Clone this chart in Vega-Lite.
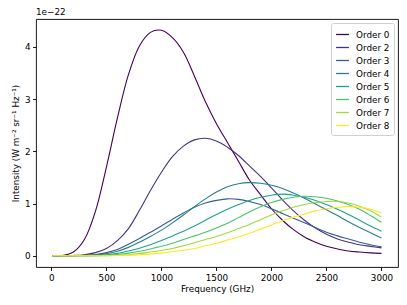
{
  "$schema": "https://vega.github.io/schema/vega-lite/v6.json",
  "width": 362,
  "height": 248,
  "padding": {"left": 36, "top": 19, "right": 9, "bottom": 38},
  "autosize": {"type": "none"},
  "background": "white",
  "config": {
    "font": "DejaVu Sans",
    "view": {"stroke": "black", "strokeWidth": 0.9},
    "axis": {"grid": false, "domain": false, "tickColor": "black", "tickSize": 3.5, "tickWidth": 0.9, "labelColor": "black", "labelFontSize": 8.8, "titleFontSize": 8.8, "titleFontWeight": "normal", "titleColor": "black", "labelPadding": 2.5}
  },
  "title": {"text": "1e\u221222", "anchor": "start", "frame": "group", "fontSize": 8.8, "fontWeight": "normal", "offset": 2, "color": "black"},
  "data": {"values": [
    {"f":10,"v":0,"o":"Order 0"},{"f":100,"v":0.003,"o":"Order 0"},{"f":200,"v":0.07,"o":"Order 0"},{"f":300,"v":0.31,"o":"Order 0"},{"f":400,"v":0.85,"o":"Order 0"},{"f":500,"v":1.7,"o":"Order 0"},{"f":600,"v":2.64,"o":"Order 0"},{"f":700,"v":3.47,"o":"Order 0"},{"f":800,"v":4.02,"o":"Order 0"},{"f":900,"v":4.28,"o":"Order 0"},{"f":1000,"v":4.32,"o":"Order 0"},{"f":1100,"v":4.18,"o":"Order 0"},{"f":1200,"v":3.9,"o":"Order 0"},{"f":1300,"v":3.44,"o":"Order 0"},{"f":1400,"v":2.95,"o":"Order 0"},{"f":1500,"v":2.53,"o":"Order 0"},{"f":1600,"v":2.17,"o":"Order 0"},{"f":1700,"v":1.81,"o":"Order 0"},{"f":1800,"v":1.45,"o":"Order 0"},{"f":1900,"v":1.17,"o":"Order 0"},{"f":2000,"v":0.9,"o":"Order 0"},{"f":2100,"v":0.68,"o":"Order 0"},{"f":2200,"v":0.5,"o":"Order 0"},{"f":2300,"v":0.36,"o":"Order 0"},{"f":2400,"v":0.26,"o":"Order 0"},{"f":2500,"v":0.18,"o":"Order 0"},{"f":2600,"v":0.13,"o":"Order 0"},{"f":2700,"v":0.09,"o":"Order 0"},{"f":2800,"v":0.07,"o":"Order 0"},{"f":2900,"v":0.055,"o":"Order 0"},{"f":3000,"v":0.045,"o":"Order 0"},

    {"f":10,"v":0,"o":"Order 2"},{"f":100,"v":0,"o":"Order 2"},{"f":200,"v":0.005,"o":"Order 2"},{"f":300,"v":0.02,"o":"Order 2"},{"f":400,"v":0.06,"o":"Order 2"},{"f":500,"v":0.14,"o":"Order 2"},{"f":600,"v":0.29,"o":"Order 2"},{"f":700,"v":0.52,"o":"Order 2"},{"f":800,"v":0.87,"o":"Order 2"},{"f":900,"v":1.25,"o":"Order 2"},{"f":1000,"v":1.6,"o":"Order 2"},{"f":1100,"v":1.9,"o":"Order 2"},{"f":1200,"v":2.1,"o":"Order 2"},{"f":1300,"v":2.22,"o":"Order 2"},{"f":1400,"v":2.25,"o":"Order 2"},{"f":1500,"v":2.2,"o":"Order 2"},{"f":1600,"v":2.08,"o":"Order 2"},{"f":1700,"v":1.92,"o":"Order 2"},{"f":1800,"v":1.72,"o":"Order 2"},{"f":1900,"v":1.52,"o":"Order 2"},{"f":2000,"v":1.3,"o":"Order 2"},{"f":2100,"v":1.07,"o":"Order 2"},{"f":2200,"v":0.86,"o":"Order 2"},{"f":2300,"v":0.68,"o":"Order 2"},{"f":2400,"v":0.53,"o":"Order 2"},{"f":2500,"v":0.41,"o":"Order 2"},{"f":2600,"v":0.32,"o":"Order 2"},{"f":2700,"v":0.26,"o":"Order 2"},{"f":2800,"v":0.21,"o":"Order 2"},{"f":2900,"v":0.18,"o":"Order 2"},{"f":3000,"v":0.15,"o":"Order 2"},

    {"f":10,"v":0,"o":"Order 3"},{"f":100,"v":0,"o":"Order 3"},{"f":200,"v":0.002,"o":"Order 3"},{"f":300,"v":0.008,"o":"Order 3"},{"f":400,"v":0.025,"o":"Order 3"},{"f":500,"v":0.06,"o":"Order 3"},{"f":600,"v":0.12,"o":"Order 3"},{"f":700,"v":0.22,"o":"Order 3"},{"f":800,"v":0.33,"o":"Order 3"},{"f":900,"v":0.45,"o":"Order 3"},{"f":1000,"v":0.57,"o":"Order 3"},{"f":1100,"v":0.7,"o":"Order 3"},{"f":1200,"v":0.82,"o":"Order 3"},{"f":1300,"v":0.93,"o":"Order 3"},{"f":1400,"v":1.01,"o":"Order 3"},{"f":1500,"v":1.06,"o":"Order 3"},{"f":1600,"v":1.09,"o":"Order 3"},{"f":1700,"v":1.08,"o":"Order 3"},{"f":1800,"v":1.04,"o":"Order 3"},{"f":1900,"v":0.98,"o":"Order 3"},{"f":2000,"v":0.9,"o":"Order 3"},{"f":2100,"v":0.81,"o":"Order 3"},{"f":2200,"v":0.72,"o":"Order 3"},{"f":2300,"v":0.63,"o":"Order 3"},{"f":2400,"v":0.54,"o":"Order 3"},{"f":2500,"v":0.45,"o":"Order 3"},{"f":2600,"v":0.38,"o":"Order 3"},{"f":2700,"v":0.32,"o":"Order 3"},{"f":2800,"v":0.26,"o":"Order 3"},{"f":2900,"v":0.21,"o":"Order 3"},{"f":3000,"v":0.17,"o":"Order 3"},

    {"f":10,"v":0,"o":"Order 4"},{"f":100,"v":0,"o":"Order 4"},{"f":200,"v":0,"o":"Order 4"},{"f":300,"v":0.004,"o":"Order 4"},{"f":400,"v":0.015,"o":"Order 4"},{"f":500,"v":0.04,"o":"Order 4"},{"f":600,"v":0.085,"o":"Order 4"},{"f":700,"v":0.16,"o":"Order 4"},{"f":800,"v":0.26,"o":"Order 4"},{"f":900,"v":0.37,"o":"Order 4"},{"f":1000,"v":0.49,"o":"Order 4"},{"f":1100,"v":0.63,"o":"Order 4"},{"f":1200,"v":0.78,"o":"Order 4"},{"f":1300,"v":0.94,"o":"Order 4"},{"f":1400,"v":1.09,"o":"Order 4"},{"f":1500,"v":1.22,"o":"Order 4"},{"f":1600,"v":1.32,"o":"Order 4"},{"f":1700,"v":1.38,"o":"Order 4"},{"f":1800,"v":1.4,"o":"Order 4"},{"f":1900,"v":1.39,"o":"Order 4"},{"f":2000,"v":1.35,"o":"Order 4"},{"f":2100,"v":1.29,"o":"Order 4"},{"f":2200,"v":1.2,"o":"Order 4"},{"f":2300,"v":1.1,"o":"Order 4"},{"f":2400,"v":0.99,"o":"Order 4"},{"f":2500,"v":0.88,"o":"Order 4"},{"f":2600,"v":0.77,"o":"Order 4"},{"f":2700,"v":0.65,"o":"Order 4"},{"f":2800,"v":0.54,"o":"Order 4"},{"f":2900,"v":0.44,"o":"Order 4"},{"f":3000,"v":0.34,"o":"Order 4"},

    {"f":10,"v":0,"o":"Order 5"},{"f":100,"v":0,"o":"Order 5"},{"f":200,"v":0,"o":"Order 5"},{"f":300,"v":0.001,"o":"Order 5"},{"f":400,"v":0.006,"o":"Order 5"},{"f":500,"v":0.02,"o":"Order 5"},{"f":600,"v":0.045,"o":"Order 5"},{"f":700,"v":0.09,"o":"Order 5"},{"f":800,"v":0.145,"o":"Order 5"},{"f":900,"v":0.21,"o":"Order 5"},{"f":1000,"v":0.29,"o":"Order 5"},{"f":1100,"v":0.38,"o":"Order 5"},{"f":1200,"v":0.47,"o":"Order 5"},{"f":1300,"v":0.57,"o":"Order 5"},{"f":1400,"v":0.68,"o":"Order 5"},{"f":1500,"v":0.79,"o":"Order 5"},{"f":1600,"v":0.89,"o":"Order 5"},{"f":1700,"v":0.98,"o":"Order 5"},{"f":1800,"v":1.06,"o":"Order 5"},{"f":1900,"v":1.12,"o":"Order 5"},{"f":2000,"v":1.16,"o":"Order 5"},{"f":2100,"v":1.18,"o":"Order 5"},{"f":2200,"v":1.16,"o":"Order 5"},{"f":2300,"v":1.12,"o":"Order 5"},{"f":2400,"v":1.06,"o":"Order 5"},{"f":2500,"v":0.98,"o":"Order 5"},{"f":2600,"v":0.89,"o":"Order 5"},{"f":2700,"v":0.79,"o":"Order 5"},{"f":2800,"v":0.68,"o":"Order 5"},{"f":2900,"v":0.57,"o":"Order 5"},{"f":3000,"v":0.47,"o":"Order 5"},

    {"f":10,"v":0,"o":"Order 6"},{"f":100,"v":0,"o":"Order 6"},{"f":200,"v":0,"o":"Order 6"},{"f":300,"v":0,"o":"Order 6"},{"f":400,"v":0.002,"o":"Order 6"},{"f":500,"v":0.008,"o":"Order 6"},{"f":600,"v":0.025,"o":"Order 6"},{"f":700,"v":0.05,"o":"Order 6"},{"f":800,"v":0.085,"o":"Order 6"},{"f":900,"v":0.13,"o":"Order 6"},{"f":1000,"v":0.18,"o":"Order 6"},{"f":1100,"v":0.24,"o":"Order 6"},{"f":1200,"v":0.31,"o":"Order 6"},{"f":1300,"v":0.38,"o":"Order 6"},{"f":1400,"v":0.45,"o":"Order 6"},{"f":1500,"v":0.53,"o":"Order 6"},{"f":1600,"v":0.62,"o":"Order 6"},{"f":1700,"v":0.73,"o":"Order 6"},{"f":1800,"v":0.84,"o":"Order 6"},{"f":1900,"v":0.94,"o":"Order 6"},{"f":2000,"v":1.02,"o":"Order 6"},{"f":2100,"v":1.08,"o":"Order 6"},{"f":2200,"v":1.12,"o":"Order 6"},{"f":2300,"v":1.14,"o":"Order 6"},{"f":2400,"v":1.13,"o":"Order 6"},{"f":2500,"v":1.1,"o":"Order 6"},{"f":2600,"v":1.05,"o":"Order 6"},{"f":2700,"v":0.98,"o":"Order 6"},{"f":2800,"v":0.89,"o":"Order 6"},{"f":2900,"v":0.77,"o":"Order 6"},{"f":3000,"v":0.64,"o":"Order 6"},

    {"f":10,"v":0,"o":"Order 7"},{"f":100,"v":0,"o":"Order 7"},{"f":200,"v":0,"o":"Order 7"},{"f":300,"v":0,"o":"Order 7"},{"f":400,"v":0,"o":"Order 7"},{"f":500,"v":0.002,"o":"Order 7"},{"f":600,"v":0.008,"o":"Order 7"},{"f":700,"v":0.02,"o":"Order 7"},{"f":800,"v":0.04,"o":"Order 7"},{"f":900,"v":0.07,"o":"Order 7"},{"f":1000,"v":0.1,"o":"Order 7"},{"f":1100,"v":0.14,"o":"Order 7"},{"f":1200,"v":0.19,"o":"Order 7"},{"f":1300,"v":0.25,"o":"Order 7"},{"f":1400,"v":0.31,"o":"Order 7"},{"f":1500,"v":0.37,"o":"Order 7"},{"f":1600,"v":0.44,"o":"Order 7"},{"f":1700,"v":0.52,"o":"Order 7"},{"f":1800,"v":0.6,"o":"Order 7"},{"f":1900,"v":0.69,"o":"Order 7"},{"f":2000,"v":0.78,"o":"Order 7"},{"f":2100,"v":0.86,"o":"Order 7"},{"f":2200,"v":0.93,"o":"Order 7"},{"f":2300,"v":0.98,"o":"Order 7"},{"f":2400,"v":1.02,"o":"Order 7"},{"f":2500,"v":1.04,"o":"Order 7"},{"f":2600,"v":1.04,"o":"Order 7"},{"f":2700,"v":1.01,"o":"Order 7"},{"f":2800,"v":0.95,"o":"Order 7"},{"f":2900,"v":0.86,"o":"Order 7"},{"f":3000,"v":0.74,"o":"Order 7"},

    {"f":10,"v":0,"o":"Order 8"},{"f":100,"v":0,"o":"Order 8"},{"f":200,"v":0,"o":"Order 8"},{"f":300,"v":0,"o":"Order 8"},{"f":400,"v":0,"o":"Order 8"},{"f":500,"v":0,"o":"Order 8"},{"f":600,"v":0.003,"o":"Order 8"},{"f":700,"v":0.008,"o":"Order 8"},{"f":800,"v":0.018,"o":"Order 8"},{"f":900,"v":0.03,"o":"Order 8"},{"f":1000,"v":0.05,"o":"Order 8"},{"f":1100,"v":0.075,"o":"Order 8"},{"f":1200,"v":0.105,"o":"Order 8"},{"f":1300,"v":0.14,"o":"Order 8"},{"f":1400,"v":0.19,"o":"Order 8"},{"f":1500,"v":0.24,"o":"Order 8"},{"f":1600,"v":0.3,"o":"Order 8"},{"f":1700,"v":0.36,"o":"Order 8"},{"f":1800,"v":0.43,"o":"Order 8"},{"f":1900,"v":0.51,"o":"Order 8"},{"f":2000,"v":0.59,"o":"Order 8"},{"f":2100,"v":0.67,"o":"Order 8"},{"f":2200,"v":0.74,"o":"Order 8"},{"f":2300,"v":0.8,"o":"Order 8"},{"f":2400,"v":0.86,"o":"Order 8"},{"f":2500,"v":0.9,"o":"Order 8"},{"f":2600,"v":0.93,"o":"Order 8"},{"f":2700,"v":0.94,"o":"Order 8"},{"f":2800,"v":0.93,"o":"Order 8"},{"f":2900,"v":0.89,"o":"Order 8"},{"f":3000,"v":0.82,"o":"Order 8"}
  ]},
  "mark": {"type": "line", "interpolate": "catmull-rom", "strokeWidth": 1.1, "clip": true},
  "encoding": {
    "x": {"field": "f", "type": "quantitative", "title": "Frequency (GHz)", "scale": {"domain": [-140, 3150], "nice": false, "zero": false}, "axis": {"values": [0, 500, 1000, 1500, 2000, 2500, 3000], "format": "d", "titlePadding": 3}},
    "y": {"field": "v", "type": "quantitative", "title": "Intensity (W m\u207b\u00b2 sr\u207b\u00b9 Hz\u207b\u00b9)", "scale": {"domain": [-0.216, 4.536], "nice": false, "zero": false}, "axis": {"values": [0, 1, 2, 3, 4], "format": "d", "titlePadding": 4}},
    "color": {"field": "o", "type": "nominal", "scale": {"domain": ["Order 0","Order 2","Order 3","Order 4","Order 5","Order 6","Order 7","Order 8"], "range": ["#440154","#46327e","#365c8d","#277f8e","#1fa187","#4ac16d","#a0da39","#fde725"]},
      "legend": {"title": null, "orient": "top-right", "offset": 4, "symbolType": "stroke", "symbolSize": 165, "symbolStrokeWidth": 1.3, "labelFontSize": 8.8, "labelColor": "black", "rowPadding": 0, "padding": 4, "strokeColor": "#d0d0d0", "fillColor": "white", "cornerRadius": 2, "labelOffset": 6}
    }
  }
}
